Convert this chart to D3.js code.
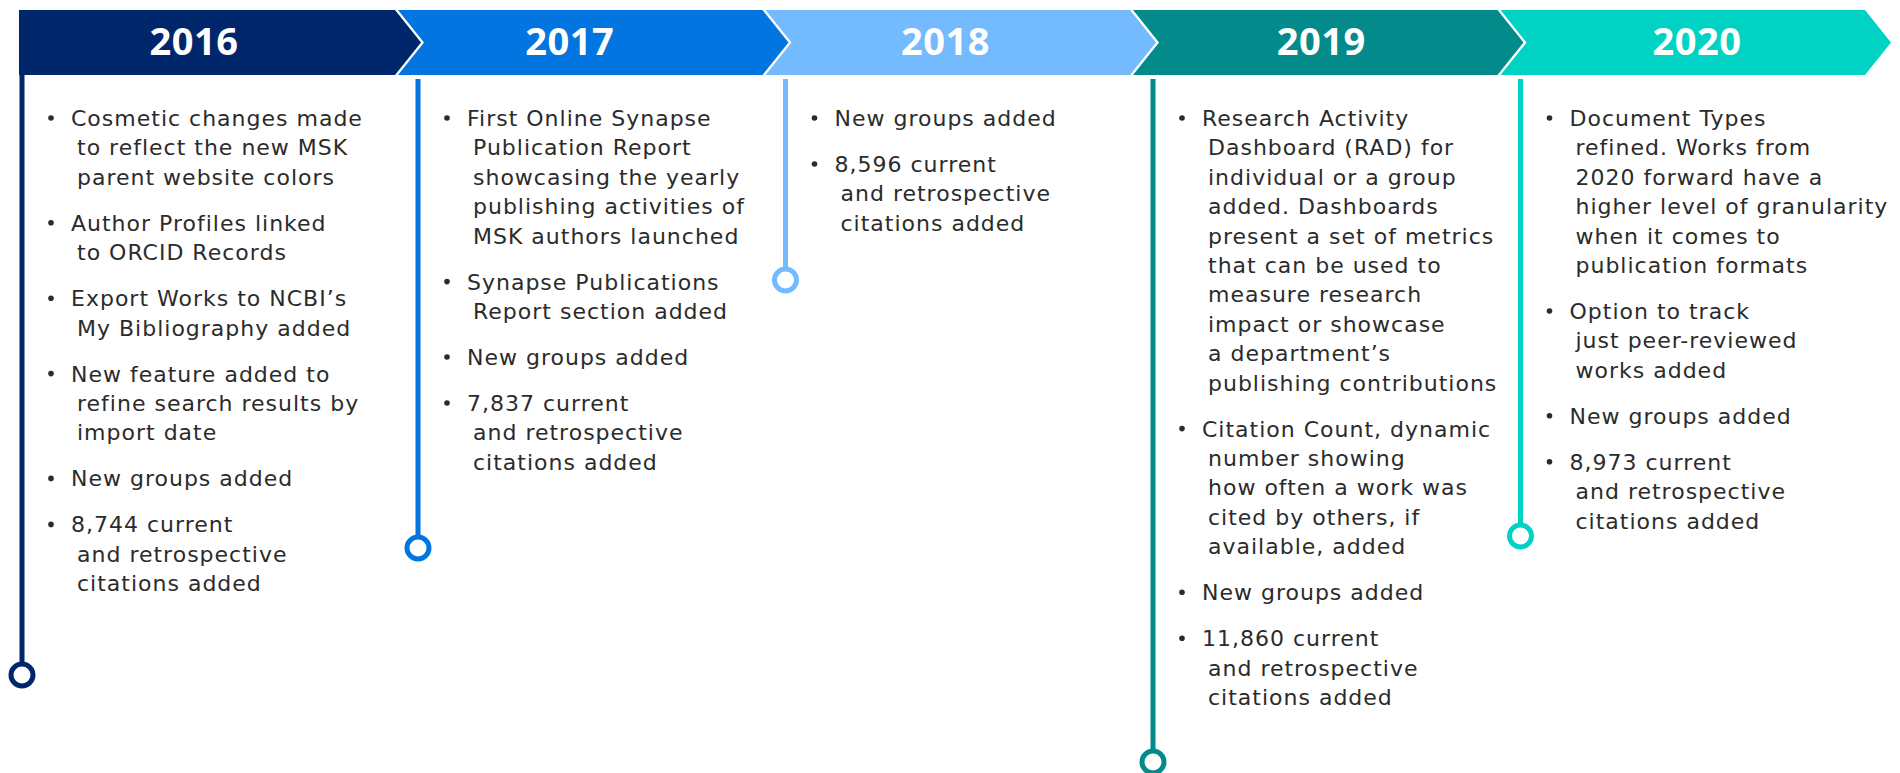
<!DOCTYPE html>
<html>
<head>
<meta charset="utf-8">
<script src="https://cdn.jsdelivr.net/npm/d3@7/dist/d3.min.js"></script>
<style>
    body { margin: 0; background: #fff; }
    svg { display: block; }
    .tl-year { font-family: "Open Sans", sans-serif; font-weight: 700; font-size: 38px; fill: #fff; letter-spacing: 0.5px; }
    .tl-note { font-family: "DejaVu Sans", sans-serif; font-size: 22px; fill: #2b2b2b; letter-spacing: 1px; }
</style>
</head>
<body>
<div class="tl-chart"></div>
<script>
var years = ['2016', '2017', '2018', '2019', '2020'];
var yearColors = ['#00266b', '#0275e0', '#73bafe', '#038b8c', '#00d3c3'];

var notes2016 = [
    ['Cosmetic changes made', 'to reflect the new MSK', 'parent website colors'],
    ['Author Profiles linked', 'to ORCID Records'],
    ['Export Works to NCBI\u2019s', 'My Bibliography added'],
    ['New feature added to', 'refine search results by', 'import date'],
    ['New groups added'],
    ['8,744 current', 'and retrospective', 'citations added']
];
var notes2017 = [
    ['First Online Synapse', 'Publication Report', 'showcasing the yearly', 'publishing activities of', 'MSK authors launched'],
    ['Synapse Publications', 'Report section added'],
    ['New groups added'],
    ['7,837 current', 'and retrospective', 'citations added']
];
var notes2018 = [
    ['New groups added'],
    ['8,596 current', 'and retrospective', 'citations added']
];
var notes2019 = [
    ['Research Activity', 'Dashboard (RAD) for', 'individual or a group', 'added. Dashboards', 'present a set of metrics',
        'that can be used to', 'measure research', 'impact or showcase', 'a department\u2019s', 'publishing contributions'],
    ['Citation Count, dynamic', 'number showing', 'how often a work was', 'cited by others, if', 'available, added'],
    ['New groups added'],
    ['11,860 current', 'and retrospective', 'citations added']
];
var notes2020 = [
    ['Document Types', 'refined. Works from', '2020 forward have a', 'higher level of granularity', 'when it comes to', 'publication formats'],
    ['Option to track', 'just peer-reviewed', 'works added'],
    ['New groups added'],
    ['8,973 current', 'and retrospective', 'citations added']
];
var notesByYear = [notes2016, notes2017, notes2018, notes2019, notes2020];

// how far down each year's stem reaches
var stemDepth = [675, 548, 280, 762, 536];

drawTimeline();

function drawTimeline() {
    var width = 1900, height = 773;
    var bannerTop = 10, bannerBottom = 75, tipDepth = 26, gap = 3;
    var lineHeight = 29.4, bulletGap = 16.6, firstBaseline = 126;

    var svg = d3.select('.tl-chart')
        .append('svg')
        .attr('width', width)
        .attr('height', height);

    // right (flat-top) edge of each chevron
    var edge = d3.scaleLinear().domain([0, 1]).range([395, 762.5]);
    var labelX = d3.scaleLinear().domain([0, 4]).range([194, 1697]);
    var depth = d3.scaleLinear().domain([0, height]).range([0, height]);
    var mid = (bannerTop + bannerBottom) / 2;

    function leftEdge(i) {
        return i === 0 ? 19 : edge(i - 1) + gap;
    }

    function stemX(i) {
        return i === 0 ? 22 : edge(i - 1) + 23;
    }

    function chevron(d, i) {
        var l = leftEdge(i), r = edge(i);
        var p = d3.path();
        p.moveTo(l, bannerTop);
        p.lineTo(r, bannerTop);
        p.lineTo(r + tipDepth, mid);
        p.lineTo(r, bannerBottom);
        p.lineTo(l, bannerBottom);
        if (i > 0) p.lineTo(l + tipDepth, mid);
        p.closePath();
        return p.toString();
    }

    // stems and end rings go under the banner
    var stems = svg.selectAll('g.tl-stem')
        .data(years)
        .enter()
        .append('g')
        .attr('class', 'tl-stem');

    stems.append('line')
        .attr('x1', function (d, i) { return stemX(i); })
        .attr('x2', function (d, i) { return stemX(i); })
        .attr('y1', function (d, i) { return i === 0 ? bannerBottom : bannerBottom + 4; })
        .attr('y2', function (d, i) { return depth(stemDepth[i]) - 11; })
        .attr('stroke', function (d, i) { return yearColors[i]; })
        .attr('stroke-width', 5);

    stems.append('circle')
        .attr('cx', function (d, i) { return stemX(i); })
        .attr('cy', function (d, i) { return depth(stemDepth[i]); })
        .attr('r', 11)
        .attr('fill', '#fff')
        .attr('stroke', function (d, i) { return yearColors[i]; })
        .attr('stroke-width', 5);

    svg.selectAll('path.tl-band')
        .data(years)
        .enter()
        .append('path')
        .attr('class', 'tl-band')
        .attr('d', chevron)
        .attr('fill', function (d, i) { return yearColors[i]; });

    svg.selectAll('text.tl-year')
        .data(years)
        .enter()
        .append('text')
        .attr('class', 'tl-year')
        .attr('x', function (d, i) { return labelX(i); })
        .attr('y', 55)
        .attr('text-anchor', 'middle')
        .text(function (d) { return d; });

    // bullet notes
    notesByYear.forEach(function (notes, i) {
        var x0 = stemX(i);
        var g = svg.append('g').attr('class', 'tl-notes');
        var y = firstBaseline;

        notes.forEach(function (lines) {
            g.append('circle')
                .attr('cx', x0 + 29)
                .attr('cy', y - 8)
                .attr('r', 2.8)
                .attr('fill', '#2b2b2b');

            lines.forEach(function (line, k) {
                g.append('text')
                    .attr('class', 'tl-note')
                    .attr('x', x0 + (k === 0 ? 49 : 55))
                    .attr('y', y + k * lineHeight)
                    .text(line);
            });

            y += lines.length * lineHeight + bulletGap;
        });
    });
}
</script>
</body>
</html>
